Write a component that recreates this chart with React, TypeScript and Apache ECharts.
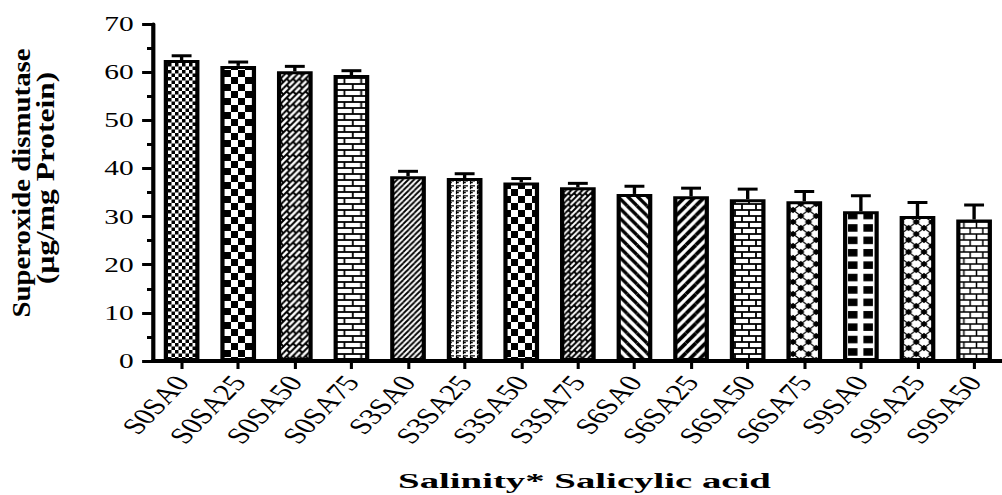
import React, { useEffect, useRef } from "react";
import * as echarts from "echarts";

// ---------- data ----------
const categories = [
  "S0SA0", "S0SA25", "S0SA50", "S0SA75",
  "S3SA0", "S3SA25", "S3SA50", "S3SA75",
  "S6SA0", "S6SA25", "S6SA50", "S6SA75",
  "S9SA0", "S9SA25", "S9SA50",
];
const values = [62.5, 61.3, 60.2, 59.4, 38.4, 38.0, 37.1, 36.1, 34.7, 34.2, 33.6, 33.2, 31.1, 30.1, 29.4];
const errors = [0.9, 0.8, 1.0, 0.9, 1.0, 0.9, 0.8, 0.8, 1.6, 1.7, 2.1, 2.0, 3.2, 2.8, 3.0];
const yMin = 0;
const yMax = 70;
const yStep = 10;
const yTitleLines = ["Superoxide dismutase", "(µg/mg Protein)"];
const xTitle = "Salinity* Salicylic acid";

// ---------- styling ----------
const S = 1.4; // horizontal stretch of the whole figure
const W = 1002 / S;
const H = 495;
const FONT = "'Liberation Serif', 'Times New Roman', serif";

const wrap = (shapes: string, w: number, h: number) => {
  let out = "";
  for (const dx of [-w, 0, w]) for (const dy of [-h, 0, h]) out += `<g transform="translate(${dx},${dy})">${shapes}</g>`;
  return out;
};
const makePattern = (pw: number, ph: number, shapes: string) => {
  const w = pw / S;
  const svg = `<svg xmlns="http://www.w3.org/2000/svg" width="${w}" height="${ph}"><rect width="${w}" height="${ph}" fill="#fff"/><g transform="scale(${1 / S},1)">${wrap(shapes, pw, ph)}</g></svg>`;
  return {
    image: "data:image/svg+xml;charset=utf-8," + encodeURIComponent(svg),
    imageWidth: w,
    imageHeight: ph,
    repeat: "repeat",
  };
};
const ln = (x1: number, y1: number, x2: number, y2: number, sw: number) =>
  `<line x1="${x1}" y1="${y1}" x2="${x2}" y2="${y2}" stroke="#000" stroke-width="${sw}"/>`;

const herring = (c: number, sw: number) => {
  const h = c / 2;
  return (
    ln(0, h, h, 0, sw) + ln(0, c, c, 0, sw) + ln(h, c, c, h, sw) +
    ln(h / 2, h / 2, h, h, sw) + ln(c - h / 2, h / 2, c, h, sw) + ln(c - h / 2, c - h / 2, c, c, sw)
  );
};
const brick = (bw: number, bh: number, sw: number) =>
  ln(0, 0, bw, 0, sw) + ln(0, bh, bw, bh, sw) + ln(0, 0, 0, bh, sw) + ln(bw / 2, bh, bw / 2, 2 * bh, sw);

const patterns: Record<string, any> = {
  fineChecker: makePattern(7, 7, `<rect width="3.5" height="3.5"/><rect x="3.5" y="3.5" width="3.5" height="3.5"/>`),
  medChecker: makePattern(14, 14, `<rect width="7" height="7"/><rect x="7" y="7" width="7" height="7"/>`),
  herring: makePattern(12.6, 12.6, herring(12.6, 2)),
  herringSmall: makePattern(11.2, 11.2, herring(11.2, 2)),
  brick: makePattern(16.8, 12, brick(16.8, 6, 1.8)),
  brickMid: makePattern(14, 12, brick(14, 6, 1.8)),
  brickSmall: makePattern(12.6, 12, brick(12.6, 6, 1.5)),
  fineDiag: makePattern(5.6, 5.6, ln(0, 5.6, 5.6, 0, 1.9)),
  thickBack: makePattern(9.8, 9.8, ln(0, 0, 9.8, 9.8, 3.3)),
  thickFwd: makePattern(9.8, 9.8, ln(0, 9.8, 9.8, 0, 3.7)),
  gamma: makePattern(7, 5, `<path d="M1,0.8 H6 M1.5,0.8 V4.2 M1.5,2.6 H3.8" stroke="#000" stroke-width="1.2" fill="none"/>`),
  diamond: makePattern(
    15.4,
    12,
    ln(0, 0, 15.4, 12, 1.2) + ln(15.4, 0, 0, 12, 1.2) +
      `<polygon points="7.7,2.8 11.3,6 7.7,9.2 4.1,6"/><polygon points="0,-3.2 3.6,0 0,3.2 -3.6,0"/>`
  ),
  blocks: makePattern(15.4, 12.4, `<rect x="1" y="1" width="9.5" height="7.5"/>`),
};
const barPatterns = [
  "fineChecker", "medChecker", "herring", "brick",
  "fineDiag", "gamma", "medChecker", "herringSmall",
  "thickBack", "thickFwd", "brickMid", "diamond",
  "blocks", "diamond", "brickSmall",
];

export default function App() {
  const ref = useRef<HTMLDivElement>(null);
  useEffect(() => {
    document.body.style.margin = "0";
    document.body.style.overflow = "hidden";
    const chart = echarts.init(ref.current!, null, { renderer: "svg" });
    const option: any = {
      animation: false,
      backgroundColor: "#fff",
      grid: { left: 109.5, right: -2.7, top: 24, bottom: 134 },
      xAxis: {
        type: "category",
        data: categories,
        boundaryGap: true,
        axisLine: { show: true, lineStyle: { color: "#000", width: 4 } },
        axisTick: { show: true, alignWithLabel: true, length: 8, lineStyle: { color: "#000", width: 2.2 } },
        axisLabel: {
          rotate: 55,
          interval: 0,
          margin: 17,
          color: "#000",
          fontFamily: FONT,
          fontSize: 23,
        },
      },
      yAxis: {
        type: "value",
        min: yMin,
        max: yMax,
        interval: yStep,
        axisLine: { show: true, lineStyle: { color: "#000", width: 3 } },
        axisTick: { show: true, length: 8, lineStyle: { color: "#000", width: 3 } },
        minorTick: { show: true, splitNumber: 2, length: 4.5, lineStyle: { color: "#000", width: 3 } },
        splitLine: { show: false },
        axisLabel: { margin: 14, color: "#000", fontFamily: FONT, fontSize: 21 },
      },
      series: [
        {
          type: "bar",
          barWidth: 25.5,
          data: values.map((v, i) => ({ value: v, itemStyle: { color: patterns[barPatterns[i]] } })),
          itemStyle: { borderColor: "#000", borderWidth: 3 },
          z: 2,
        },
        {
          type: "custom",
          data: values.map((v, i) => [i, v, errors[i]]),
          encode: { x: 0, y: 1 },
          z: 3,
          renderItem: (params: any, api: any) => {
            const base = api.coord([api.value(0), api.value(1)]);
            const top = api.coord([api.value(0), api.value(1) + api.value(2)]);
            const half = 7.1;
            return {
              type: "group",
              children: [
                { type: "line", shape: { x1: base[0], y1: base[1], x2: top[0], y2: top[1] }, style: { stroke: "#000", lineWidth: 2.4 } },
                { type: "line", shape: { x1: top[0] - half, y1: top[1], x2: top[0] + half, y2: top[1] }, style: { stroke: "#000", lineWidth: 3 } },
              ],
            };
          },
        },
      ],
      graphic: [
        {
          type: "text",
          x: 15.7,
          y: 183,
          rotation: Math.PI / 2,
          scaleX: 1.6,
          style: {
            text: yTitleLines[0],
            fontFamily: FONT,
            fontWeight: "bold",
            fontSize: 18,
            fill: "#000",
            align: "center",
            verticalAlign: "middle",
          },
        },
        {
          type: "text",
          x: 32.9,
          y: 178,
          rotation: Math.PI / 2,
          scaleX: 1.75,
          style: {
            text: yTitleLines[1],
            fontFamily: FONT,
            fontWeight: "bold",
            fontSize: 18,
            fill: "#000",
            align: "center",
            verticalAlign: "middle",
          },
        },
        {
          type: "text",
          x: 417.5,
          y: 481,
          scaleX: 1.26,
          style: {
            text: xTitle,
            fontFamily: FONT,
            fontWeight: "bold",
            fontSize: 22,
            fill: "#000",
            align: "center",
            verticalAlign: "middle",
          },
        },
      ],
    };
    chart.setOption(option);
    return () => chart.dispose();
  }, []);
  return (
    <div
      ref={ref}
      style={{
        position: "fixed",
        left: 0,
        top: 0,
        width: W,
        height: H,
        transform: `scaleX(${S})`,
        transformOrigin: "0 0",
      }}
    />
  );
}
